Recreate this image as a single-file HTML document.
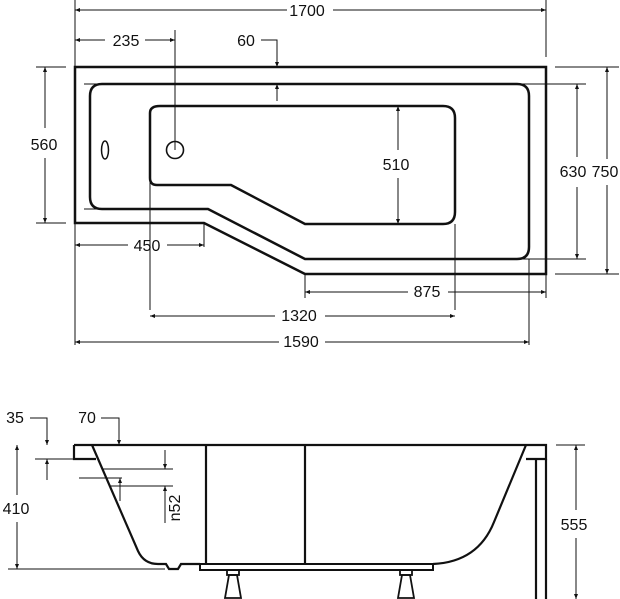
<!DOCTYPE html>
<html><head><style>
html,body{margin:0;padding:0;background:#fff;}
svg{display:block;}
text{font-family:"Liberation Sans",sans-serif;font-size:16px;fill:#111;}
</style></head><body>
<svg width="620" height="599" viewBox="0 0 620 599" xmlns="http://www.w3.org/2000/svg">
<defs>
<marker id="a" viewBox="0 0 10 10" refX="10" refY="5" markerWidth="5" markerHeight="5" orient="auto-start-reverse"><path d="M0,1 L10,5 L0,9 z" fill="#111"/></marker>
</defs>
<g stroke="#111" fill="none">
<path d="M75,67 H546 V274 H305 L204,223 H75 Z" stroke-width="2.5"/>
<path d="M102,84 H517 Q529,84 529,96 V247 Q529,259 517,259 H305 L208,209 H102 Q90,209 90,197 V96 Q90,84 102,84 Z" stroke-width="2.5"/>
<path d="M160,106 H443 Q455,106 455,118 V212 Q455,224 443,224 H305 L231,185 H157 Q150,185 150,178 V113 Q150,106 160,106 Z" stroke-width="2.5"/>
<circle cx="175" cy="150" r="8.5" stroke-width="1.6"/>
<ellipse cx="105" cy="150" rx="3.5" ry="9" stroke-width="1.5"/>
<g stroke-width="1">
<line x1="84" y1="84" x2="586" y2="84"/>
<line x1="84" y1="209" x2="102" y2="209"/>
<line x1="516" y1="259" x2="586" y2="259"/>
<line x1="555" y1="67" x2="619" y2="67"/>
<line x1="555" y1="274" x2="619" y2="274"/>
<line x1="36" y1="67" x2="66" y2="67"/>
<line x1="36" y1="223" x2="66" y2="223"/>
<line x1="75" y1="0" x2="75" y2="345"/>
<line x1="546" y1="0" x2="546" y2="57"/>
<line x1="204" y1="223" x2="204" y2="247"/>
<line x1="305" y1="274" x2="305" y2="298"/>
<line x1="546" y1="274" x2="546" y2="298"/>
<line x1="150" y1="180" x2="150" y2="310"/>
<line x1="455" y1="224" x2="455" y2="310"/>
<line x1="529" y1="259" x2="529" y2="345"/>
<line x1="175" y1="30" x2="175" y2="150"/>
<line x1="75" y1="10" x2="287" y2="10" marker-start="url(#a)"/>
<line x1="333" y1="10" x2="546" y2="10" marker-end="url(#a)"/>
<line x1="75" y1="40" x2="105" y2="40" marker-start="url(#a)"/>
<line x1="145" y1="40" x2="175" y2="40" marker-end="url(#a)"/>
<path d="M261,40 H277 V67" marker-end="url(#a)"/>
<line x1="277" y1="101" x2="277" y2="84" marker-end="url(#a)"/>
<line x1="45" y1="67" x2="45" y2="128" marker-start="url(#a)"/>
<line x1="45" y1="158" x2="45" y2="223" marker-end="url(#a)"/>
<line x1="398" y1="106" x2="398" y2="150" marker-start="url(#a)"/>
<line x1="398" y1="178" x2="398" y2="224" marker-end="url(#a)"/>
<line x1="577" y1="84" x2="577" y2="157" marker-start="url(#a)"/>
<line x1="577" y1="187" x2="577" y2="259" marker-end="url(#a)"/>
<line x1="607" y1="67" x2="607" y2="159" marker-start="url(#a)"/>
<line x1="607" y1="185" x2="607" y2="274" marker-end="url(#a)"/>
<line x1="75" y1="245" x2="128" y2="245" marker-start="url(#a)"/>
<line x1="167" y1="245" x2="204" y2="245" marker-end="url(#a)"/>
<line x1="305" y1="292" x2="408" y2="292" marker-start="url(#a)"/>
<line x1="448" y1="292" x2="546" y2="292" marker-end="url(#a)"/>
<line x1="150" y1="316" x2="275" y2="316" marker-start="url(#a)"/>
<line x1="325" y1="316" x2="455" y2="316" marker-end="url(#a)"/>
<line x1="75" y1="342" x2="279" y2="342" marker-start="url(#a)"/>
<line x1="325" y1="342" x2="529" y2="342" marker-end="url(#a)"/>
</g>
<path d="M74,445 H546 V459 H526" stroke-width="2.2"/>
<path d="M74,445 V459 H96" stroke-width="2.2"/>
<path d="M92,445 L138,551 Q144,564 158,564 H166 L169,569 H178 L181,564 H200" stroke-width="2.2"/>
<path d="M433,564 Q478,562 494,522 L526,445" stroke-width="2.2"/>
<path d="M536,459 V599 M546,459 V599" stroke-width="2.2"/>
<line x1="206" y1="445" x2="206" y2="564" stroke-width="2.2"/>
<line x1="305" y1="445" x2="305" y2="564" stroke-width="2.2"/>
<rect x="200" y="564" width="233" height="6" stroke-width="2"/>
<g stroke-width="1.8">
<rect x="227" y="570" width="12" height="5"/>
<path d="M229,575 H237 L241,598 H225 Z"/>
<rect x="400" y="570" width="12" height="5"/>
<path d="M402,575 H410 L414,598 H398 Z"/>
</g>
<g stroke-width="1">
<line x1="103" y1="469" x2="173" y2="469"/>
<line x1="109" y1="486" x2="173" y2="486"/>
<line x1="79" y1="478" x2="122" y2="478"/>
<line x1="35" y1="459" x2="75" y2="459"/>
<line x1="8" y1="569" x2="165" y2="569"/>
<line x1="556" y1="445" x2="585" y2="445"/>
<path d="M30,418 H47 V445" marker-end="url(#a)"/>
<line x1="47" y1="480" x2="47" y2="459" marker-end="url(#a)"/>
<path d="M101,418 H119 V445" marker-end="url(#a)"/>
<line x1="165" y1="450" x2="165" y2="469" marker-end="url(#a)"/>
<line x1="165" y1="523" x2="165" y2="486" marker-end="url(#a)"/>
<line x1="120" y1="501" x2="120" y2="478" marker-end="url(#a)"/>
<line x1="17" y1="445" x2="17" y2="495" marker-start="url(#a)"/>
<line x1="17" y1="522" x2="17" y2="569" marker-end="url(#a)"/>
<line x1="576" y1="445" x2="576" y2="510" marker-start="url(#a)"/>
<line x1="576" y1="538" x2="576" y2="599" marker-end="url(#a)"/>
</g>
</g>
<g>
<text x="307" y="16" text-anchor="middle">1700</text>
<text x="126" y="46" text-anchor="middle">235</text>
<text x="246" y="46" text-anchor="middle">60</text>
<text x="44" y="150" text-anchor="middle">560</text>
<text x="396" y="170" text-anchor="middle">510</text>
<text x="573" y="177" text-anchor="middle">630</text>
<text x="605" y="177" text-anchor="middle">750</text>
<text x="147" y="251" text-anchor="middle">450</text>
<text x="427" y="297" text-anchor="middle">875</text>
<text x="299" y="321" text-anchor="middle">1320</text>
<text x="301" y="347" text-anchor="middle">1590</text>
<text x="15" y="423" text-anchor="middle">35</text>
<text x="87" y="423" text-anchor="middle">70</text>
<text x="16" y="514" text-anchor="middle">410</text>
<text x="574" y="530" text-anchor="middle">555</text>
<text transform="translate(180,508) rotate(-90)" text-anchor="middle">n52</text>
</g>
</svg>
</body></html>
